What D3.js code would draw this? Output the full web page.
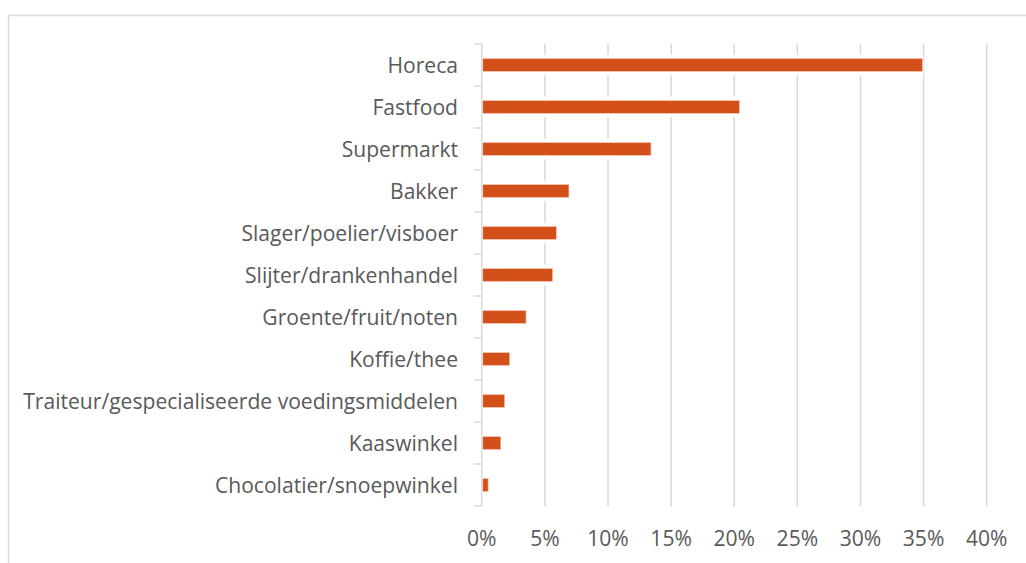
<!DOCTYPE html>
<html>
<head>
<meta charset="utf-8">
<script src="https://cdn.jsdelivr.net/npm/d3@7"></script>
<style>
  html, body { margin: 0; padding: 0; background: #fff; }
  svg { display: block; }
</style>
</head>
<body>
<svg id="chart" width="1026" height="563"></svg>
<script>
const categories = [
  "Horeca",
  "Fastfood",
  "Supermarkt",
  "Bakker",
  "Slager/poelier/visboer",
  "Slijter/drankenhandel",
  "Groente/fruit/noten",
  "Koffie/thee",
  "Traiteur/gespecialiseerde voedingsmiddelen",
  "Kaaswinkel",
  "Chocolatier/snoepwinkel"
];
const values = [0.349, 0.204, 0.134, 0.069, 0.059, 0.056, 0.035, 0.022, 0.018, 0.015, 0.005];
const tickValues = [0, 0.05, 0.10, 0.15, 0.20, 0.25, 0.30, 0.35, 0.40];
const tickLabels = ["0%", "5%", "10%", "15%", "20%", "25%", "30%", "35%", "40%"];

const svg = d3.select("#chart");
const fontFamily = "'Open Sans', 'Noto Sans', sans-serif";
const textColor = "#595959";
const gridColor = "#d9d9d9";
const barColor = "#D4501A";

// outer chart border
svg.append("rect")
  .attr("x", 8.5).attr("y", 15.5)
  .attr("width", 1040).attr("height", 600)
  .attr("fill", "none").attr("stroke", gridColor).attr("stroke-width", 1.5);

const x = d3.scaleLinear().domain([0, 0.40]).range([481.8, 986.7]);
const y = d3.scaleBand().domain(categories).range([44, 506])
  .paddingInner(0.7).paddingOuter(0.35);

// fit font size to the longest label
const probe = svg.append("text").attr("font-family", fontFamily).attr("font-size", 20)
  .text(categories[8]);
const w20 = probe.node().getComputedTextLength();
probe.remove();
const fs = 20 * 435 / w20;

// gridlines
svg.append("g").selectAll("line").data(tickValues.slice(1)).join("line")
  .attr("x1", d => x(d)).attr("x2", d => x(d))
  .attr("y1", 44).attr("y2", 506.5)
  .attr("stroke", gridColor).attr("stroke-width", 1.5);

// white halo behind bars
svg.append("g").selectAll("rect").data(values).join("rect")
  .attr("x", x(0) + 1)
  .attr("y", (d, i) => y(categories[i]) - 4)
  .attr("width", d => x(d) - x(0))
  .attr("height", y.bandwidth() + 8)
  .attr("fill", "#fff");

// bars
svg.append("g").selectAll("rect").data(values).join("rect")
  .attr("x", x(0) + 1)
  .attr("y", (d, i) => y(categories[i]))
  .attr("width", d => x(d) - x(0) - 1)
  .attr("height", y.bandwidth())
  .attr("fill", barColor)
  .attr("stroke", "#f0b9a3").attr("stroke-width", 0.6);

// y axis line with ticks at band boundaries
const boundaries = d3.range(categories.length + 1).map(i => 44 + y.step() * i);
svg.append("line")
  .attr("x1", x(0)).attr("x2", x(0)).attr("y1", 44).attr("y2", 506.5)
  .attr("stroke", gridColor).attr("stroke-width", 1.5);
svg.append("g").selectAll("line").data(boundaries).join("line")
  .attr("x1", x(0) - 8).attr("x2", x(0))
  .attr("y1", d => d).attr("y2", d => d)
  .attr("stroke", gridColor).attr("stroke-width", 1.5);

// category labels
svg.append("g").selectAll("text").data(categories).join("text")
  .attr("x", 458)
  .attr("y", d => y(d) + y.bandwidth() / 2 + fs * 0.714 / 2)
  .attr("text-anchor", "end")
  .attr("font-family", fontFamily).attr("font-size", fs)
  .attr("fill", textColor)
  .text(d => d);

// x tick labels
svg.append("g").selectAll("text").data(tickValues).join("text")
  .attr("x", d => x(d))
  .attr("y", 545.5)
  .attr("text-anchor", "middle")
  .attr("font-family", fontFamily).attr("font-size", fs)
  .attr("fill", textColor)
  .text((d, i) => tickLabels[i]);
</script>
</body>
</html>
